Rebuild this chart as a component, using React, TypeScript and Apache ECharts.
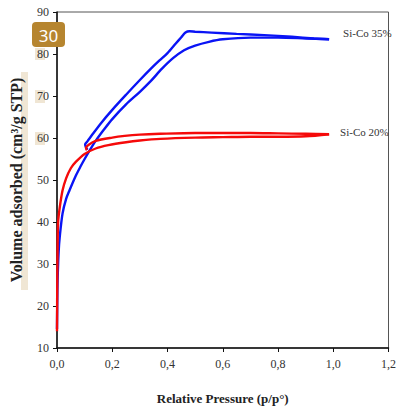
import React, { useEffect, useRef } from "react";
import * as echarts from "echarts";

const xTicks = [0, 0.2, 0.4, 0.6, 0.8, 1.0, 1.2];
const yRange = [10, 90];

// Si-Co 35% adsorption / desorption branches [p/p0, volume]
const blueAdsorption: [number, number][] = [
  [0, 14.5], [0.0015, 24], [0.003, 28], [0.006, 33], [0.01, 36.5], [0.02, 42],
  [0.033, 45.5], [0.045, 47.5], [0.068, 51], [0.085, 53.2], [0.1, 55], [0.115, 56.7],
  [0.14, 59.3], [0.17, 62], [0.2, 64.5], [0.25, 68], [0.3, 71], [0.34, 73.6],
  [0.38, 76.5], [0.42, 79], [0.46, 80.9], [0.5, 82], [0.55, 82.9], [0.6, 83.5],
  [0.7, 83.9], [0.8, 83.9], [0.9, 83.7], [0.985, 83.5],
];
const blueDesorption: [number, number][] = [
  [0.985, 83.5], [0.93, 83.7], [0.85, 84.1], [0.75, 84.5], [0.65, 84.8], [0.56, 85.1],
  [0.5, 85.3], [0.48, 85.4], [0.465, 85.1], [0.45, 84], [0.43, 82.5], [0.4, 80.2],
  [0.37, 78.4], [0.34, 76.5], [0.3, 73.8], [0.25, 70.3], [0.2, 66.7], [0.16, 63.6],
  [0.13, 61], [0.11, 59.2], [0.102, 58.5], [0.104, 57.9], [0.11, 57.2],
];
// Si-Co 20%
const redAdsorption: [number, number][] = [
  [0, 14], [0.001, 26], [0.002, 33], [0.004, 40], [0.01, 43.5], [0.02, 47.5],
  [0.033, 50.4], [0.05, 52.8], [0.068, 54.3], [0.1, 56.2], [0.14, 57.5], [0.186, 58.3],
  [0.25, 59], [0.3, 59.4], [0.374, 59.8], [0.5, 60.1], [0.6, 60.2], [0.7, 60.3],
  [0.8, 60.3], [0.9, 60.4], [0.985, 60.9],
];
const redDesorption: [number, number][] = [
  [0.985, 60.9], [0.9, 61], [0.8, 61.1], [0.7, 61.2], [0.6, 61.2], [0.5, 61.2],
  [0.374, 61], [0.3, 60.8], [0.245, 60.5], [0.2, 60.1], [0.14, 59.3], [0.115, 58.4],
  [0.105, 57.7], [0.108, 57.1],
];
const seriesNames = ["Si-Co 35%", "Si-Co 20%"];
const badgeText = "30";

const SERIF = "'Liberation Serif', 'Times New Roman', serif";

export default function App() {
  const ref = useRef<HTMLDivElement>(null);
  useEffect(() => {
    if (!ref.current) return;
    const chart = echarts.init(ref.current, undefined, { renderer: "svg" });
    const lineStyle = (c: string) => ({ color: c, width: 2.4 });
    const fmt = (v: number) => v.toFixed(1).replace(".", ",");
    chart.setOption({
      animation: false,
      backgroundColor: "#fff",
      grid: {
        left: 54, right: 6, top: 12, bottom: 59,
        show: true, borderColor: "#555", borderWidth: 1,
      },
      xAxis: {
        type: "value", min: xTicks[0], max: xTicks[xTicks.length - 1], interval: 0.2,
        splitLine: { show: false },
        axisLine: { lineStyle: { color: "#111", width: 1.5 } },
        axisTick: { show: true, length: 4, lineStyle: { color: "#111" } },
        axisLabel: { formatter: fmt, fontFamily: SERIF, fontSize: 12, color: "#333", margin: 10 },
        name: "Relative Pressure (p/p°)", nameLocation: "middle", nameGap: 44,
        nameTextStyle: { fontFamily: SERIF, fontWeight: "bold", fontSize: 13, color: "#222" },
      },
      yAxis: {
        type: "value", min: yRange[0], max: yRange[1], interval: 10,
        splitLine: { show: false },
        axisLine: { show: true, lineStyle: { color: "#111", width: 1.5 } },
        axisTick: { show: true, length: 4, lineStyle: { color: "#111" } },
        axisLabel: { fontFamily: SERIF, fontSize: 12, color: "#333", margin: 8 },
        name: "Volume adsorbed (cm³/g STP)", nameLocation: "middle", nameGap: 33, nameRotate: 90,
        nameTextStyle: { fontFamily: SERIF, fontWeight: "bold", fontSize: 16, color: "#222" },
      },
      graphic: [
        { type: "rect", z: -1, shape: { x: 35, y: 48, width: 10, height: 12 }, style: { fill: "#F0E6D4" } },
        { type: "rect", z: -1, shape: { x: 35, y: 90, width: 10, height: 13 }, style: { fill: "#F0E6D4" } },
        { type: "rect", z: -1, shape: { x: 35, y: 132, width: 10, height: 13 }, style: { fill: "#F0E6D4" } },
        { type: "rect", z: -1, shape: { x: 21, y: 72, width: 7, height: 218 }, style: { fill: "#F0E6D4" } },
        {
          type: "rect", z: 100, shape: { x: 32, y: 22, width: 33, height: 25, r: 4 },
          style: { fill: "#B6852F" },
        },
        {
          type: "text", z: 101, x: 48.5, y: 35,
          style: {
            text: badgeText, fill: "#fff", font: "17px 'Noto Sans', sans-serif",
            textAlign: "center", textVerticalAlign: "middle",
          },
        },
      ],
      series: [
        {
          type: "line", data: blueAdsorption, symbol: "none", smooth: 0.3,
          lineStyle: lineStyle("#0A14F5"),
          endLabel: {
            show: true, formatter: seriesNames[0], offset: [6, -6],
            fontFamily: SERIF, fontSize: 11, color: "#333",
          },
        },
        { type: "line", data: blueDesorption, symbol: "none", smooth: 0.3, lineStyle: lineStyle("#0A14F5") },
        {
          type: "line", data: redAdsorption, symbol: "none", smooth: 0.3,
          lineStyle: lineStyle("#F50A0A"),
          endLabel: {
            show: true, formatter: seriesNames[1], offset: [3, -2],
            fontFamily: SERIF, fontSize: 11, color: "#333",
          },
        },
        { type: "line", data: redDesorption, symbol: "none", smooth: 0.3, lineStyle: lineStyle("#F50A0A") },
      ],
    });
    return () => chart.dispose();
  }, []);
  return <div ref={ref} style={{ position: "fixed", left: 0, top: 0, width: 399, height: 410 }} />;
}
